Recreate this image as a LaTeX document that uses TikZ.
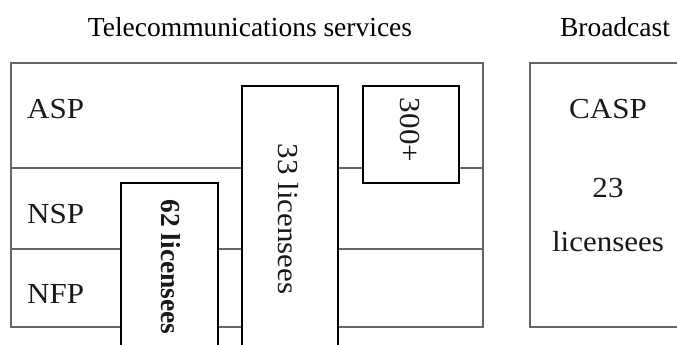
\documentclass[tikz,border=0pt]{standalone}
\usepackage{fontspec}
\setmainfont{Liberation Serif}
\begin{document}
\begin{tikzpicture}[x=1pt,y=-1pt,
  frame/.style={draw=black!60, line width=1.3pt, inner sep=0pt, outer sep=0pt, anchor=north west},
  rowline/.style={draw=black!60, line width=1.3pt},
  bar/.style={draw=black, fill=white, line width=1.7pt, inner sep=0pt, outer sep=0pt, anchor=north west},
  lbl/.style={font=\fontsize{29}{32}\selectfont, text=black!90, inner sep=0pt},
  boldlbl/.style={font=\fontsize{27.5}{30}\selectfont\bfseries, text=black!90, inner sep=0pt},
  head/.style={font=\fontsize{27.5}{30}\selectfont, text=black, inner sep=0pt}]
\clip (0,0) rectangle (677,345);
\fill[white] (0,0) rectangle (677,345);
% headings
\node[head, anchor=base] (hTele) at (250,37) {Telecommunications services};
\node[head, anchor=base] (hBroad) at (615,37) {Broadcast};
% main frame
\node[frame, minimum width=472pt, minimum height=264pt] (tele) at (11,63) {};
\coordinate (r1w) at (11,168);
\coordinate (r1e) at (483,168);
\coordinate (r2w) at (11,249);
\coordinate (r2e) at (483,249);
\draw[rowline] (r1w) -- (r1e);
\draw[rowline] (r2w) -- (r2e);
% broadcast frame
\node[frame, minimum width=200pt, minimum height=264pt] (broad) at (530,63) {};
% bars
\node[bar, minimum width=97pt, minimum height=200pt] (b62) at (121,183) {};
\node[bar, minimum width=96pt, minimum height=300pt] (b33) at (242,86) {};
\node[bar, minimum width=96pt, minimum height=97pt] (b300) at (363,86) {};
% row labels
\node[lbl, anchor=base west] (asp) at (27,118) {\scalebox{1.07}[1]{ASP}};
\node[lbl, anchor=base west] (nsp) at (27,223) {\scalebox{1.07}[1]{NSP}};
\node[lbl, anchor=base west] (nfp) at (27,303) {\scalebox{1.07}[1]{NFP}};
% rotated labels
\node[boldlbl, rotate=-90] (t62) at (171,267) {62 licensees};
\node[lbl, rotate=-90] (t33) at (288,219) {\scalebox{1.07}[1]{33 licensees}};
\node[lbl, rotate=-90] (t300) at (410,130) {\scalebox{1.07}[1]{300+}};
% broadcast labels
\node[lbl, anchor=base] (casp) at (608,118) {\scalebox{1.07}[1]{CASP}};
\node[lbl, anchor=base] (n23) at (608,197) {\scalebox{1.07}[1]{23}};
\node[lbl, anchor=base] (lic) at (608,251) {\scalebox{1.07}[1]{licensees}};
\end{tikzpicture}
\end{document}
